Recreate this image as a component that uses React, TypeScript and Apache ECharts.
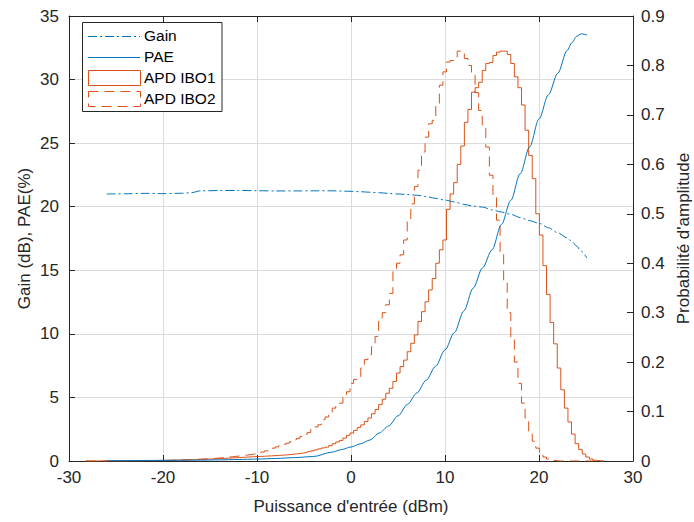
import React, { useEffect, useRef } from "react";
import * as echarts from "echarts";

// ---- Data ----
const inputPower = [-26, -24, -22, -20, -18, -17, -16, -14, -12, -10, -8, -6, -4, -2, -1, 0, 1, 2, 3, 4, 5, 6, 7, 8, 9, 10, 11, 12, 13, 14, 15, 16, 17, 18, 19, 20, 21, 22, 23, 23.5, 24, 24.5, 25.1];
const gainDb = [21.0, 21.02, 21.05, 21.03, 21.06, 21.1, 21.25, 21.27, 21.28, 21.26, 21.24, 21.24, 21.25, 21.25, 21.23, 21.21, 21.18, 21.14, 21.1, 21.05, 21.0, 20.96, 20.9, 20.8, 20.66, 20.52, 20.38, 20.18, 20.05, 19.97, 19.75, 19.58, 19.4, 19.15, 18.9, 18.7, 18.35, 17.95, 17.55, 17.25, 16.9, 16.5, 15.95];
const paePct = [0.02, 0.03, 0.04, 0.05, 0.06, 0.065, 0.07, 0.09, 0.12, 0.15, 0.2, 0.27, 0.35, 0.7, 0.9, 1.1, 1.35, 1.65, 2.2, 2.75, 3.55, 4.45, 5.35, 6.35, 7.45, 8.74, 10.1, 11.8, 13.6, 15.2, 16.6, 18.6, 20.5, 22.6, 24.7, 26.9, 28.8, 30.5, 32.3, 32.9, 33.4, 33.6, 33.5];

// Amplitude probability histograms (stairs), bins of equal width starting at apdBinStart
const apdBinStart = -28.22;
const apdBinWidth = 0.38;
const apdIbo1 = [
  0, 0, 0, 0.0001, 0.0001, 0.0002, 0.0002, 0.0003, 0.0003, 0.0004, 0.0004,
  0.0005, 0.0005, 0.0006, 0.0007, 0.0008, 0.0009, 0.001, 0.001, 0.0011, 0.0012,
  0.0013, 0.0014, 0.0015, 0.0017, 0.0019, 0.002, 0.0022, 0.0024, 0.0026, 0.0029,
  0.0031, 0.0034, 0.0037, 0.004, 0.0043, 0.0046, 0.005, 0.0054, 0.0058, 0.0062,
  0.0066, 0.007, 0.0074, 0.0078, 0.0082, 0.0086, 0.009, 0.0092, 0.0096, 0.01,
  0.0104, 0.0108, 0.0112, 0.0117, 0.0122, 0.0128, 0.0135, 0.0143, 0.0152, 0.0162,
  0.0175, 0.019, 0.0205, 0.0225, 0.0245, 0.0265, 0.028, 0.031, 0.035, 0.0384,
  0.0416, 0.0464, 0.052, 0.0565, 0.062, 0.068, 0.073, 0.08, 0.087, 0.0955,
  0.104, 0.114, 0.125, 0.137, 0.147, 0.161, 0.178, 0.191, 0.204, 0.221,
  0.238, 0.255, 0.282, 0.302, 0.322, 0.346, 0.369, 0.4, 0.427, 0.447,
  0.509, 0.54, 0.563, 0.6, 0.637, 0.685, 0.711, 0.746, 0.755, 0.766,
  0.79, 0.804, 0.806, 0.82, 0.827, 0.829, 0.829, 0.822, 0.804, 0.777,
  0.755, 0.72, 0.669, 0.618, 0.571, 0.5, 0.457, 0.395, 0.337, 0.28,
  0.237, 0.188, 0.144, 0.107, 0.079, 0.0545, 0.035, 0.023, 0.014, 0.008,
  0.004, 0.0015, 0.0005, 0,
];
const apdIbo2 = [
  0, 0, 0, 0, 0.0001, 0.0001, 0.0002, 0.0002, 0.0002, 0.0003, 0.0003,
  0.0003, 0.0003, 0.0004, 0.0004, 0.0005, 0.0005, 0.0006, 0.0007, 0.0008, 0.0009,
  0.0011, 0.0013, 0.0015, 0.0017, 0.002, 0.0022, 0.0025, 0.0028, 0.0031, 0.0034,
  0.0037, 0.004, 0.0043, 0.0047, 0.0052, 0.0058, 0.0064, 0.0071, 0.0078, 0.0085,
  0.0093, 0.0101, 0.011, 0.0118, 0.0127, 0.0137, 0.0148, 0.0165, 0.018, 0.0205,
  0.023, 0.026, 0.0285, 0.031, 0.0335, 0.036, 0.039, 0.043, 0.046, 0.0497,
  0.054, 0.0578, 0.0646, 0.069, 0.0733, 0.0834, 0.089, 0.0935, 0.107, 0.112,
  0.117, 0.13, 0.14, 0.157, 0.165, 0.171, 0.188, 0.205, 0.215, 0.231,
  0.252, 0.289, 0.3, 0.316, 0.339, 0.383, 0.4, 0.417, 0.447, 0.484,
  0.52, 0.555, 0.588, 0.625, 0.655, 0.682, 0.689, 0.723, 0.76, 0.787,
  0.807, 0.81, 0.817, 0.829, 0.824, 0.814, 0.8, 0.785, 0.745, 0.709,
  0.68, 0.635, 0.578, 0.534, 0.487, 0.42, 0.36, 0.3, 0.25, 0.2,
  0.157, 0.117, 0.087, 0.0565, 0.04, 0.026, 0.016, 0.008, 0.004, 0.0015,
  0.0005, 0, 0, 0, 0, 0, 0, 0, 0, 0, 0, 0, 0, 0,
];

const xTicks = { min: -30, max: 30, interval: 10 };
const leftTicks = { min: 0, max: 35, interval: 5 };
const rightTicks = { min: 0, max: 0.9, interval: 0.1 };

const legendNames = ["Gain", "PAE", "APD IBO1", "APD IBO2"];

const BLUE = "#0072BD";
const ORANGE = "#D95319";
const AXIS = "#262626";
const GRID = "#dcdcdc";
const FONT = "'Liberation Sans', Arial, Helvetica, sans-serif";
const TICK_FS = 17;
const NAME_FS = 17;
const LEG_FS = 15.5;

function stairs(values: number[]) {
  const pts: number[][] = values.map((v, i) => [apdBinStart + i * apdBinWidth, v]);
  pts.push([apdBinStart + values.length * apdBinWidth, 0]);
  return pts;
}

export default function App() {
  const ref = useRef<HTMLDivElement>(null);
  useEffect(() => {
    if (!ref.current) return;
    const chart = echarts.init(ref.current, undefined, { renderer: "svg" });
    const left = 69, top = 16, right = 633, bottom = 461;
    const gainData = inputPower.map((x, i) => [x, gainDb[i]]);
    const paeData = inputPower.map((x, i) => [x, paePct[i]]);
    const lx = 88, lx2 = 140;
    const legText = (i: number, y: number) => ({
      type: "text",
      left: 144,
      top: y - 9,
      z: 102,
      style: {
        text: legendNames[i], fontSize: LEG_FS, fontFamily: FONT, fill: "#000",
        textAlign: "left", textVerticalAlign: "top",
      },
    });
    chart.setOption({
      animation: false,
      backgroundColor: "#ffffff",
      textStyle: { fontFamily: FONT },
      grid: {
        left, top, width: right - left, height: bottom - top,
        containLabel: false, outerBoundsMode: "none",
      },
      xAxis: [
        {
          type: "value",
          position: "bottom",
          ...xTicks,
          name: "Puissance d'entrée (dBm)",
          nameLocation: "middle",
          nameGap: 37,
          nameMoveOverlap: false,
          nameTextStyle: { fontSize: NAME_FS, color: AXIS, fontFamily: FONT },
          axisLine: { show: true, onZero: false, lineStyle: { color: AXIS, width: 1 } },
          axisTick: { show: true, inside: true, length: 6, lineStyle: { color: AXIS } },
          axisLabel: { fontSize: TICK_FS, color: AXIS, margin: 8, fontFamily: FONT },
          splitLine: { show: true, lineStyle: { color: GRID, width: 1 } },
        },
        {
          type: "value",
          position: "top",
          ...xTicks,
          axisLine: { show: true, onZero: false, lineStyle: { color: AXIS, width: 1 } },
          axisTick: { show: true, inside: true, length: 6, lineStyle: { color: AXIS } },
          axisLabel: { show: false },
          splitLine: { show: false },
        },
      ],
      yAxis: [
        {
          type: "value",
          position: "left",
          ...leftTicks,
          name: "Gain (dB), PAE(%)",
          nameLocation: "middle",
          nameRotate: 90,
          nameGap: 36,
          nameMoveOverlap: false,
          nameTextStyle: { fontSize: NAME_FS, color: AXIS, fontFamily: FONT },
          axisLine: { show: true, onZero: false, lineStyle: { color: AXIS, width: 1 } },
          axisTick: { show: true, inside: true, length: 6, lineStyle: { color: AXIS } },
          axisLabel: { fontSize: TICK_FS, color: AXIS, margin: 10, fontFamily: FONT },
          splitLine: { show: true, lineStyle: { color: GRID, width: 1 } },
        },
        {
          type: "value",
          position: "right",
          ...rightTicks,
          name: "Probabilité d'amplitude",
          nameLocation: "middle",
          nameRotate: 90,
          nameGap: 42,
          nameMoveOverlap: false,
          nameTextStyle: { fontSize: NAME_FS, color: AXIS, fontFamily: FONT },
          axisLine: { show: true, onZero: false, lineStyle: { color: AXIS, width: 1 } },
          axisTick: { show: true, inside: true, length: 6, lineStyle: { color: AXIS } },
          axisLabel: {
            fontSize: TICK_FS, color: AXIS, margin: 8, fontFamily: FONT,
            formatter: (v: number) => (Math.abs(v) < 1e-9 ? "0" : v.toFixed(1)),
          },
          splitLine: { show: false },
        },
      ],
      series: [
        {
          name: legendNames[2], type: "line", xAxisIndex: 0, yAxisIndex: 1, step: "end",
          data: stairs(apdIbo1), showSymbol: false, symbol: "none",
          lineStyle: { color: ORANGE, width: 1 }, itemStyle: { color: ORANGE },
        },
        {
          name: legendNames[3], type: "line", xAxisIndex: 0, yAxisIndex: 1, step: "end",
          data: stairs(apdIbo2), showSymbol: false, symbol: "none",
          lineStyle: { color: ORANGE, width: 1, type: [10, 6] }, itemStyle: { color: ORANGE },
        },
        {
          name: legendNames[0], type: "line", xAxisIndex: 0, yAxisIndex: 0,
          data: gainData, showSymbol: false, symbol: "none", smooth: 0.3, smoothMonotone: "x",
          lineStyle: { color: BLUE, width: 1, type: [9, 3, 2, 3] }, itemStyle: { color: BLUE },
        },
        {
          name: legendNames[1], type: "line", xAxisIndex: 0, yAxisIndex: 0,
          data: paeData, showSymbol: false, symbol: "none", smooth: 0.3, smoothMonotone: "x",
          lineStyle: { color: BLUE, width: 1 }, itemStyle: { color: BLUE },
        },
      ],
      graphic: [
        { type: "rect", z: 100, shape: { x: 82.5, y: 22.5, width: 139.5, height: 89 }, style: { fill: "#ffffff", stroke: AXIS, lineWidth: 1 } },
        { type: "line", z: 101, shape: { x1: lx, y1: 36.5, x2: lx2, y2: 36.5 }, style: { stroke: BLUE, lineWidth: 1, lineDash: [9, 3, 2, 3] } },
        { type: "line", z: 101, shape: { x1: lx, y1: 57.5, x2: lx2, y2: 57.5 }, style: { stroke: BLUE, lineWidth: 1 } },
        { type: "rect", z: 101, shape: { x: 88.5, y: 70.5, width: 52, height: 15 }, style: { fill: "none", stroke: ORANGE, lineWidth: 1 } },
        { type: "rect", z: 101, shape: { x: 88.5, y: 91.5, width: 52, height: 15 }, style: { fill: "none", stroke: ORANGE, lineWidth: 1, lineDash: [10, 6] } },
        legText(0, 36.5),
        legText(1, 57.5),
        legText(2, 78.5),
        legText(3, 99.5),
      ],
    });
    return () => chart.dispose();
  }, []);
  return (
    <div
      ref={ref}
      style={{ position: "absolute", left: 0, top: 0, width: 694, height: 522, background: "#fff" }}
    />
  );
}
